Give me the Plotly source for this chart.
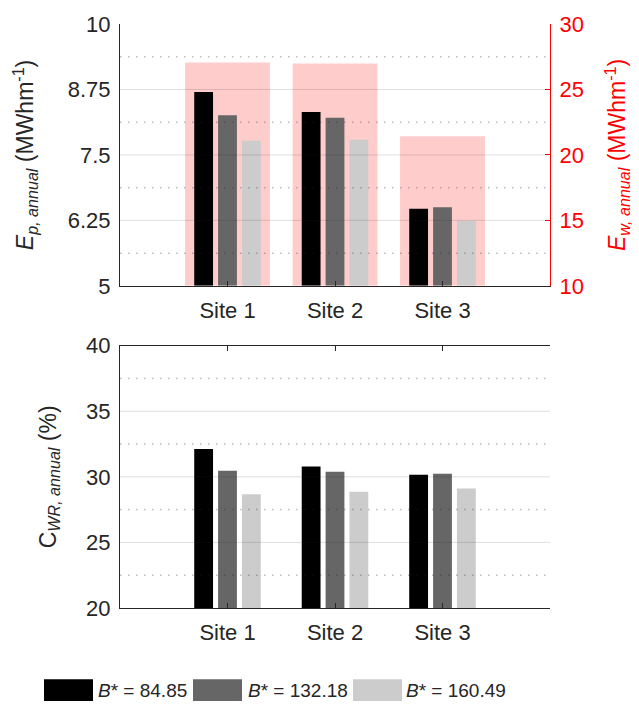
import plotly.graph_objects as go

# ---------------- data ----------------
sites = ["Site 1", "Site 2", "Site 3"]
site_pos = [1, 2, 3]
b_values = ["84.85", "132.18", "160.49"]
bar_colors = ["#000000", "#666666", "#cccccc"]

ep_b1 = [8.70, 8.32, 6.47]
ep_b2 = [8.26, 8.21, 6.50]
ep_b3 = [7.77, 7.79, 6.245]
ew_annual = [27.06, 26.98, 21.42]

cwr_b1 = [32.12, 30.79, 30.16]
cwr_b2 = [30.47, 30.39, 30.24]
cwr_b3 = [28.68, 28.86, 29.11]

ep_ticks = [5, 6.25, 7.5, 8.75, 10]
ep_ticktext = ["5", "6.25", "7.5", "8.75", "10"]
ew_ticks = [10, 15, 20, 25, 30]
cwr_ticks = [20, 25, 30, 35, 40]

# ---------------- geometry / style ----------------
W, H = 639, 704
ML, MR, MT, MB = 120, 89, 17, 96
PW, PH = W - ML - MR, H - MT - MB
FONT = "Liberation Sans, Arial, sans-serif"
AX = "#262626"
RED = "#ff0000"
TICKFS = 22
TITLEFS = 23

def px_x(px):
    return (px - ML) / PW

def px_y(py):
    return (H - MB - py) / PH

top_dom = [px_y(282), 1.0]
bot_dom = [0.0, px_y(342.5)]

BW = 0.175
STEP = 0.222
offsets = [-STEP - BW / 2, -BW / 2, STEP - BW / 2]
PINK_W = 0.79

fig = go.Figure()

# pink wide bars (right axis)
fig.add_trace(go.Bar(x=site_pos, y=[v - ew_ticks[0] for v in ew_annual], base=ew_ticks[0],
                     width=PINK_W, offset=-PINK_W / 2,
                     marker=dict(color="rgba(255,0,0,0.2)", line=dict(width=0)),
                     xaxis="x", yaxis="y", showlegend=False))

ep_series = [ep_b1, ep_b2, ep_b3]
cwr_series = [cwr_b1, cwr_b2, cwr_b3]
for i in range(3):
    fig.add_trace(go.Bar(x=site_pos, y=[v - ep_ticks[0] for v in ep_series[i]], base=ep_ticks[0],
                         width=BW, offset=offsets[i],
                         marker=dict(color=bar_colors[i], line=dict(width=0)),
                         xaxis="x", yaxis="y2", showlegend=False))
    fig.add_trace(go.Bar(x=site_pos, y=[v - cwr_ticks[0] for v in cwr_series[i]], base=cwr_ticks[0],
                         width=BW, offset=offsets[i],
                         marker=dict(color=bar_colors[i], line=dict(width=0)),
                         xaxis="x2", yaxis="y3", showlegend=False))

# gridlines drawn above bars (solid at ticks, dotted at midpoints)
shapes = []
def add_grid(ticks, xref, yref):
    for t in ticks[1:-1]:
        shapes.append(dict(type="line", xref=xref, yref=yref, x0=0, x1=1, y0=t, y1=t,
                           line=dict(color="rgba(38,38,38,0.15)", width=1), layer="above"))
    for a, b in zip(ticks[:-1], ticks[1:]):
        m = (a + b) / 2
        shapes.append(dict(type="line", xref=xref, yref=yref, x0=0, x1=1, y0=m, y1=m,
                           line=dict(color="rgba(38,38,38,0.3)", width=1.5, dash="1.5px,6.5px"),
                           layer="above"))

add_grid(ep_ticks, "x domain", "y2")
add_grid(cwr_ticks, "x2 domain", "y3")

# legend (manual, wide swatches)
annotations = []
leg_box_x = [44, 193, 353]
leg_txt_x = [96, 246, 404]
for i in range(3):
    shapes.append(dict(type="rect", xref="paper", yref="paper",
                       x0=px_x(leg_box_x[i]), x1=px_x(leg_box_x[i] + 49),
                       y0=px_y(702), y1=px_y(680),
                       fillcolor=bar_colors[i], line=dict(width=0)))
    annotations.append(dict(xref="paper", yref="paper", x=px_x(leg_txt_x[i]), y=px_y(691),
                            xanchor="left", yanchor="middle", showarrow=False,
                            text=f"<i>B</i>* = {b_values[i]}",
                            font=dict(family=FONT, size=19, color=AX)))

tickfont = dict(family=FONT, size=TICKFS, color=AX)
common_x = dict(range=[0, 4], tickvals=site_pos, ticktext=sites, ticks="inside", ticklen=5,
                tickcolor=AX, showline=True, linecolor=AX, linewidth=1, showgrid=False,
                zeroline=False, tickfont=tickfont, ticklabelstandoff=5)

fig.update_layout(
    width=W, height=H,
    margin=dict(l=ML, r=MR, t=MT, b=MB),
    paper_bgcolor="white", plot_bgcolor="white",
    barmode="overlay",
    showlegend=False,
    font=dict(family=FONT, color=AX),
    shapes=shapes,
    annotations=annotations,
    xaxis=dict(domain=[0, 1], anchor="y", **common_x),
    xaxis3=dict(domain=[0, 1], anchor="y", overlaying="x", side="top", range=[0, 4],
                tickvals=site_pos, showticklabels=False, ticks="inside", ticklen=5,
                tickcolor=RED, showline=True, linecolor=RED, linewidth=1, showgrid=False,
                zeroline=False),
    yaxis=dict(domain=top_dom, anchor="x", side="right", range=[ew_ticks[0], ew_ticks[-1]],
               tickvals=ew_ticks, ticks="inside", ticklen=5, tickcolor=RED,
               showline=True, linecolor=RED, linewidth=1, showgrid=False, zeroline=False,
               tickfont=dict(family=FONT, size=TICKFS, color=RED), ticklabelstandoff=4,
               title=dict(text="<i>E</i><sub><i>w, annual</i></sub> (MWhm<sup>-1</sup>)",
                          font=dict(family=FONT, size=TITLEFS, color=RED), standoff=26)),
    yaxis2=dict(overlaying="y", anchor="x", side="left", range=[ep_ticks[0], ep_ticks[-1]],
                tickvals=ep_ticks, ticktext=ep_ticktext, ticks="", showline=True,
                linecolor=AX, linewidth=1, showgrid=False, zeroline=False, tickfont=tickfont,
                ticklabelstandoff=4,
                title=dict(text="<i>E</i><sub><i>p, annual</i></sub> (MWhm<sup>-1</sup>)",
                           font=dict(family=FONT, size=TITLEFS, color=AX), standoff=27)),
    xaxis2=dict(domain=[0, 1], anchor="y3", mirror="ticks", **common_x),
    yaxis3=dict(domain=bot_dom, anchor="x2", side="left", range=[cwr_ticks[0], cwr_ticks[-1]],
                tickvals=cwr_ticks, ticks="", showline=True, linecolor=AX, linewidth=1,
                showgrid=False, zeroline=False, tickfont=tickfont, ticklabelstandoff=4,
                title=dict(text="C<sub><i>WR, annual</i></sub> (%)",
                           font=dict(family=FONT, size=TITLEFS, color=AX), standoff=23)),
    yaxis4=dict(overlaying="y3", anchor="x2", side="right", range=[cwr_ticks[0], cwr_ticks[-1]],
                tickvals=cwr_ticks, showticklabels=False, ticks="inside", ticklen=5,
                tickcolor=AX, showline=True, linecolor=AX, linewidth=1, showgrid=False,
                zeroline=False),
)

fig.write_html("out.html")
